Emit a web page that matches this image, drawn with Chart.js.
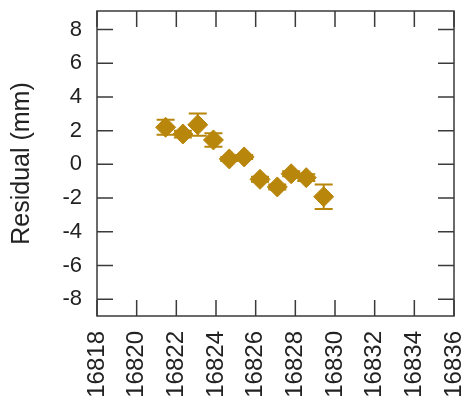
<!DOCTYPE html>
<html lang="en">
<head>
    <meta charset="UTF-8">
    <title>Residual</title>
    <script src="https://cdn.jsdelivr.net/npm/chart.js@4.4.1/dist/chart.umd.min.js"></script>
    <style>
        html, body { margin: 0; padding: 0; background: #fff; }
        canvas { display: block; }
    </style>
</head>
<body>
    <canvas id="chart" width="465" height="406"></canvas>

    <script>
        // Data
        const epochs = [16821.46, 16822.33, 16823.08, 16823.87, 16824.67, 16825.42, 16826.22, 16827.09, 16827.79, 16828.55, 16829.43];
        const residuals = [2.2, 1.8, 2.35, 1.45, 0.32, 0.44, -0.89, -1.34, -0.56, -0.79, -1.92];
        const errors = [0.45, 0.2, 0.66, 0.4, 0.12, 0.12, 0.15, 0.15, 0.15, 0.2, 0.73];

        // Axis tick labels
        const xTicks = [16818, 16820, 16822, 16824, 16826, 16828, 16830, 16832, 16834, 16836];
        const yTicks = [-8, -6, -4, -2, 0, 2, 4, 6, 8];

        const gold = '#b8860b';
        const ink = '#222';

        Chart.defaults.font.family = '"Liberation Sans", Arial, sans-serif';
        Chart.defaults.color = ink;

        // Vertical error bars with caps, drawn under the markers
        const errorBars = {
            id: 'errorBars',
            beforeDatasetsDraw(chart) {
                const { ctx, scales: { x, y } } = chart;
                ctx.save();
                ctx.strokeStyle = gold;
                ctx.lineWidth = 2;
                epochs.forEach((t, i) => {
                    const px = x.getPixelForValue(t);
                    const top = y.getPixelForValue(residuals[i] + errors[i]);
                    const bot = y.getPixelForValue(residuals[i] - errors[i]);
                    ctx.beginPath();
                    ctx.moveTo(px, top); ctx.lineTo(px, bot);
                    ctx.moveTo(px - 9, top); ctx.lineTo(px + 9, top);
                    ctx.moveTo(px - 9, bot); ctx.lineTo(px + 9, bot);
                    ctx.stroke();
                });
                ctx.restore();
            }
        };

        // gnuplot-style box with inward ticks on all sides
        const frame = {
            id: 'frame',
            afterDatasetsDraw(chart) {
                const { ctx, chartArea: a, scales: { x, y } } = chart;
                const len = 16;
                ctx.save();
                ctx.strokeStyle = '#3a3a3a';
                ctx.lineWidth = 1.5;
                ctx.strokeRect(a.left, a.top, a.right - a.left, a.bottom - a.top);
                ctx.beginPath();
                xTicks.forEach(v => {
                    const px = x.getPixelForValue(v);
                    ctx.moveTo(px, a.bottom); ctx.lineTo(px, a.bottom - len);
                    ctx.moveTo(px, a.top); ctx.lineTo(px, a.top + len);
                });
                yTicks.forEach(v => {
                    const py = y.getPixelForValue(v);
                    ctx.moveTo(a.left, py); ctx.lineTo(a.left + len, py);
                    ctx.moveTo(a.right, py); ctx.lineTo(a.right - len, py);
                });
                ctx.stroke();
                ctx.restore();
            }
        };

        new Chart(document.getElementById('chart'), {
            type: 'scatter',
            data: {
                datasets: [{
                    data: epochs.map((t, i) => ({ x: t, y: residuals[i] })),
                    pointStyle: 'rectRot',
                    pointRadius: 10,
                    backgroundColor: gold,
                    borderColor: gold,
                    borderWidth: 1
                }]
            },
            options: {
                responsive: false,
                animation: false,
                layout: { padding: { top: 6, right: 9, left: 0, bottom: 0 } },
                plugins: { legend: { display: false }, tooltip: { enabled: false } },
                scales: {
                    x: {
                        type: 'linear',
                        min: 16818,
                        max: 16836,
                        grid: { display: false, drawTicks: false },
                        border: { display: false },
                        ticks: {
                            font: { size: 24 },
                            color: ink,
                            minRotation: 90,
                            maxRotation: 90,
                            padding: 15,
                            autoSkip: false,
                            callback: v => String(v)
                        },
                        afterBuildTicks: s => { s.ticks = xTicks.map(v => ({ value: v })); },
                        afterFit: s => { s.height = 90; s.paddingLeft = 0; s.paddingRight = 0; }
                    },
                    y: {
                        min: -9,
                        max: 9.1,
                        grid: { display: false, drawTicks: false },
                        border: { display: false },
                        ticks: {
                            font: { size: 22 },
                            color: ink,
                            padding: 15,
                            autoSkip: false
                        },
                        title: {
                            display: true,
                            text: 'Residual (mm)',
                            font: { size: 25 },
                            color: ink,
                            padding: { top: 7, bottom: 4 }
                        },
                        afterBuildTicks: s => { s.ticks = yTicks.map(v => ({ value: v })); },
                        afterFit: s => { s.width = 97; s.paddingTop = 0; s.paddingBottom = 0; }
                    }
                }
            },
            plugins: [errorBars, frame]
        });
    </script>
</body>
</html>
